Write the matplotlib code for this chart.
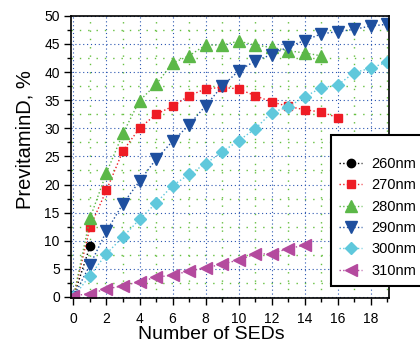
import numpy as np
import matplotlib.pyplot as plt
from matplotlib.ticker import MultipleLocator

plt.rcParams['font.family'] = ['Liberation Sans', 'DejaVu Sans']

# data
x260 = [0, 1]
y260 = [0, 9.0]

x270 = list(range(0, 17))
y270 = [0, 12.4, 19.0, 26.0, 30.0, 32.5, 33.9, 35.8, 37.0, 37.3, 37.0, 35.8,
        34.7, 33.9, 33.3, 32.9, 31.9]

x280 = list(range(0, 16))
y280 = [0, 14.0, 22.1, 29.1, 34.9, 37.8, 41.6, 42.9, 44.8, 44.8, 45.5, 44.8,
        44.4, 43.8, 43.4, 42.9]

x290 = list(range(0, 20))
y290 = [0, 5.7, 11.7, 16.6, 20.6, 24.5, 27.7, 30.6, 34.0, 37.5, 40.2, 42.0,
        43.1, 44.5, 45.6, 46.8, 47.2, 47.6, 48.2, 48.5]

x300 = list(range(0, 20))
y300 = [0, 3.8, 7.7, 10.7, 13.8, 16.7, 19.8, 21.8, 23.7, 25.8, 27.8, 29.9,
        32.8, 33.8, 35.6, 37.2, 37.7, 39.9, 40.7, 41.8]

x310 = list(range(0, 15))
y310 = [0.2, 0.6, 1.4, 2.0, 2.7, 3.5, 3.9, 4.6, 5.2, 5.8, 6.6, 7.6, 7.7, 8.6, 9.2]

labels = ['260nm', '270nm', '280nm', '290nm', '300nm', '310nm']

fig = plt.figure(figsize=(4.2, 3.45), dpi=100)
ax = fig.add_axes([0.169, 0.136, 0.757, 0.818])

# grid: blue dotted on major, green dotted on minor
ax.xaxis.set_major_locator(MultipleLocator(2))
ax.xaxis.set_minor_locator(MultipleLocator(1))
ax.yaxis.set_major_locator(MultipleLocator(5))
ax.yaxis.set_minor_locator(MultipleLocator(2.5))
ax.grid(which='major', color='#2a55b0', linestyle=(0, (1, 2.5)), linewidth=0.8)
ax.grid(which='minor', color='#66c040', linestyle=(0, (1, 5)), linewidth=1.0)
ax.set_axisbelow(True)

ax.plot(x260, y260, linestyle=':', color='black', marker='o', markersize=6, lw=1, label=labels[0])
ax.plot(x270, y270, linestyle=':', color='#ee1c25', marker='s', markersize=6, lw=1, label=labels[1])
ax.plot(x280, y280, linestyle=':', color='#5cb848', marker='^', markersize=8, lw=1, label=labels[2])
ax.plot(x290, y290, linestyle=':', color='#1e4f9f', marker='v', markersize=8, lw=1, label=labels[3])
ax.plot(x300, y300, linestyle=':', color='#5fc8dc', marker='D', markersize=6.5, lw=1, label=labels[4])
ax.plot(x310, y310, linestyle=':', color='#b44a9e', marker='<', markersize=8, lw=1, label=labels[5])

ax.set_xlim(-0.15, 19.1)
ax.set_ylim(-0.2, 50)
ax.set_xticks(range(0, 20, 2))
ax.set_yticks(range(0, 51, 5))

ax.tick_params(axis='x', which='major', direction='out', length=5, width=1, labelsize=10, pad=5)
ax.tick_params(axis='y', which='major', direction='out', length=5, width=1, labelsize=10, pad=3)
ax.tick_params(which='minor', direction='out', length=3, width=1)
for s in ax.spines.values():
    s.set_linewidth(1.2)

ax.set_xlabel('Number of SEDs', fontsize=14)
ax.set_ylabel('PrevitaminD, %', fontsize=14.5)
ax.xaxis.set_label_coords(0.44, -0.1)
ax.yaxis.set_label_coords(-0.115, 0.56)

leg = ax.legend(loc='upper left', bbox_to_anchor=(0.788, 0.609),
                bbox_transform=fig.transFigure, borderaxespad=0,
                fontsize=10.5, frameon=True, fancybox=False, framealpha=1,
                edgecolor='black', borderpad=0.55, labelspacing=0.5,
                handlelength=1.6, handletextpad=0.6,
                title=' ', title_fontsize=6)
leg.get_frame().set_linewidth(1.5)

fig.savefig('out.png', dpi=100)
